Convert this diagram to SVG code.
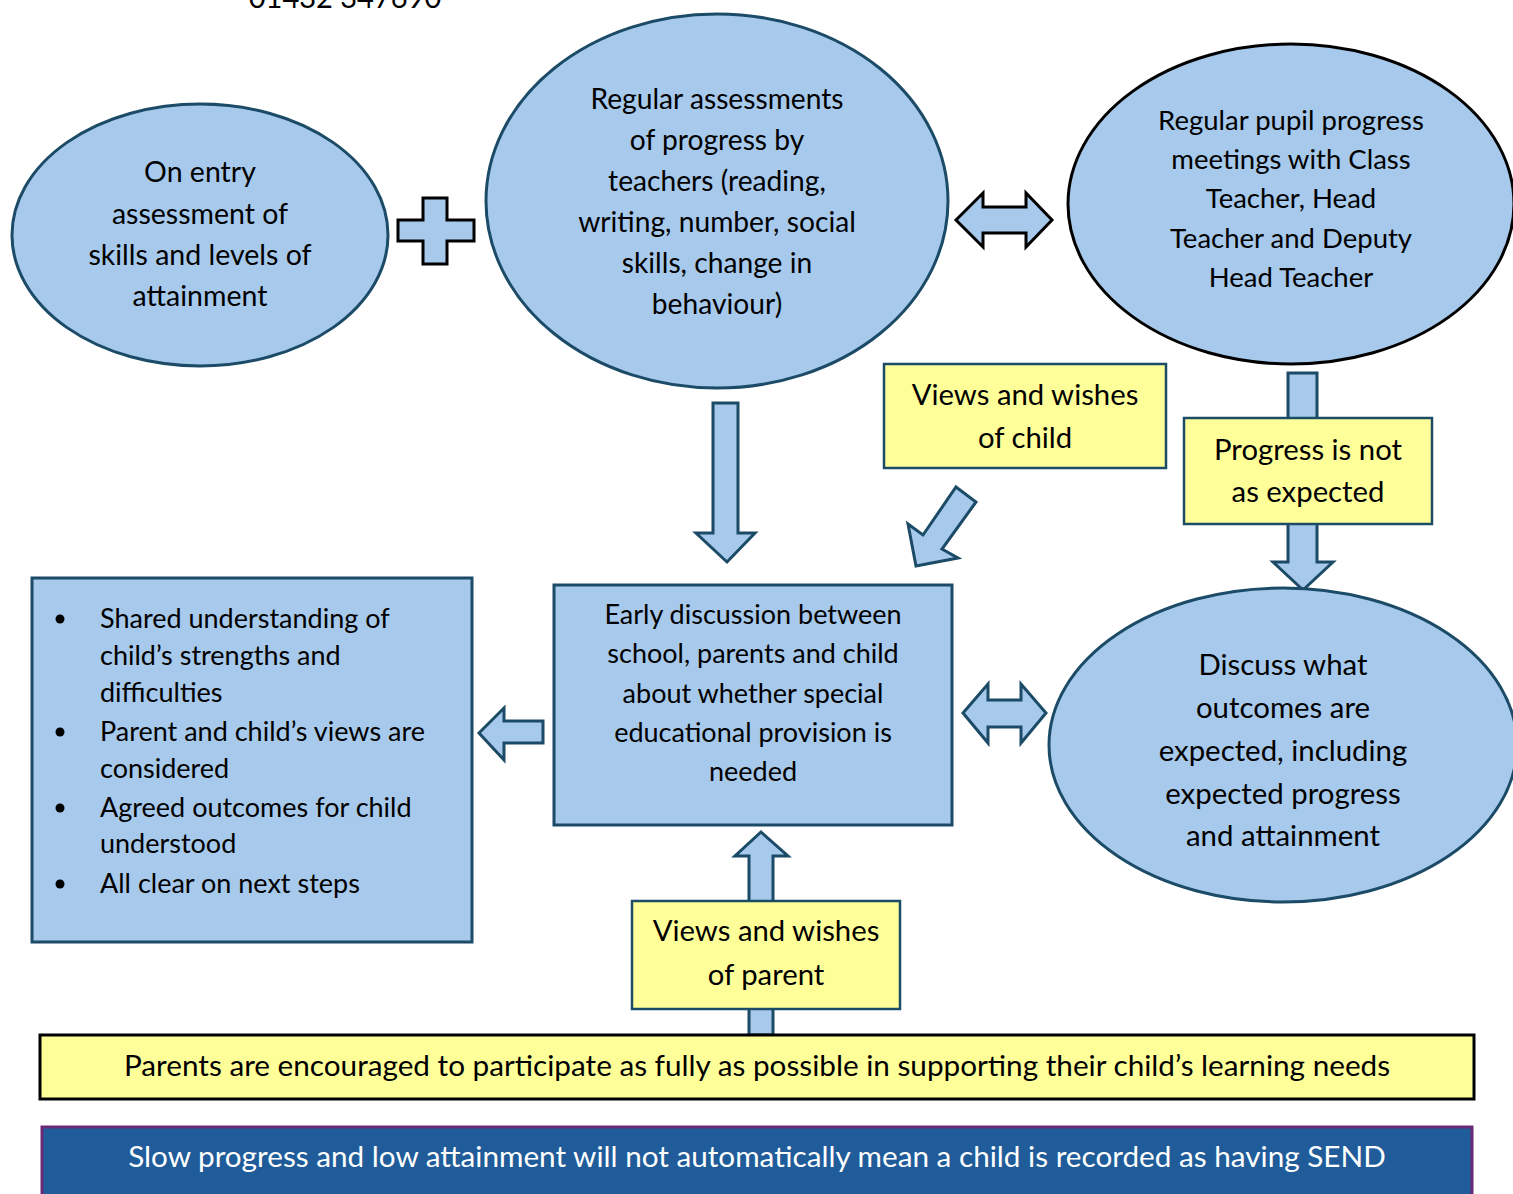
<svg xmlns="http://www.w3.org/2000/svg" width="1513" height="1194" viewBox="0 0 1513 1194">
<style>
.t{font-family:Lato,"Open Sans","Liberation Sans",sans-serif;fill:#000;text-anchor:middle}
.blue{fill:#a7c9eb;stroke:#1b4b66;stroke-width:3}
.blk{fill:#a7c9eb;stroke:#000;stroke-width:3}
.yel{fill:#ffff99;stroke:#1b4b66;stroke-width:2.5}
.arr{fill:#a7c9eb;stroke:#1b4b66;stroke-width:3;stroke-linejoin:miter}
.arrk{fill:#a7c9eb;stroke:#000;stroke-width:3;stroke-linejoin:miter}
</style>
<rect width="1513" height="1194" fill="#fff"/>
<text class="t" x="345" y="8" font-size="29">01432 347690</text>

<g id="connectors">
<path class="arrk" d="M423,198 H447 V220 H474 V241 H447 V264 H423 V241 H398 V220 H423 Z"/>
<path class="arrk" d="M956,220 L983,193 V207 H1026 V193 L1052,220 L1026,247 V233 H983 V247 Z"/>
<path class="arr" d="M713,403 H738 V533 H755 L727,562 L696,533 H713 Z"/>
<path class="arr" d="M956,487 L976,502 L942,549 L958,558 L916,566 L908,524 L923,535 Z"/>
<path class="arr" d="M1288,373 H1317 V562 H1333 L1303,590 L1273,562 H1288 Z"/>
<path class="arr" d="M479,733 L504,708 V721 H543 V743 H504 V760 Z"/>
<path class="arr" d="M963,713 L988,684 V700 H1021 V684 L1046,713 L1021,743 V727 H988 V743 Z"/>
<path class="arr" d="M761,832 L788,856 H773 V1035 H749 V856 H735 Z"/>
</g>

<g id="n1"><ellipse class="blue" cx="200" cy="235" rx="188" ry="131"/>
<text class="t" font-size="28.5"><tspan x="200" y="182">On entry</tspan><tspan x="200" y="224">assessment of</tspan><tspan x="200" y="265">skills and levels of</tspan><tspan x="200" y="306">attainment</tspan></text></g>

<g id="n2"><ellipse class="blue" cx="717" cy="201" rx="231" ry="187"/>
<text class="t" font-size="28.2"><tspan x="717" y="109">Regular assessments</tspan><tspan x="717" y="150">of progress by</tspan><tspan x="717" y="191">teachers (reading,</tspan><tspan x="717" y="232">writing, number, social</tspan><tspan x="717" y="273">skills, change in</tspan><tspan x="717" y="314">behaviour)</tspan></text></g>

<g id="n3"><ellipse class="blk" cx="1291" cy="204" rx="223" ry="160"/>
<text class="t" font-size="27.5"><tspan x="1291" y="130">Regular pupil progress</tspan><tspan x="1291" y="169">meetings with Class</tspan><tspan x="1291" y="208">Teacher, Head</tspan><tspan x="1291" y="248">Teacher and Deputy</tspan><tspan x="1291" y="287">Head Teacher</tspan></text></g>

<g id="n4"><rect class="yel" x="884" y="364" width="282" height="104"/>
<text class="t" font-size="29.3"><tspan x="1025" y="405">Views and wishes</tspan><tspan x="1025" y="448">of child</tspan></text></g>

<g id="n5"><rect class="yel" x="1184" y="418" width="248" height="106"/>
<text class="t" font-size="29.3"><tspan x="1308" y="460">Progress is not</tspan><tspan x="1308" y="502">as expected</tspan></text></g>

<g id="n6"><ellipse class="blue" cx="1283" cy="745" rx="234" ry="157"/>
<text class="t" font-size="29.4"><tspan x="1283" y="675">Discuss what</tspan><tspan x="1283" y="718">outcomes are</tspan><tspan x="1283" y="761">expected, including</tspan><tspan x="1283" y="804">expected progress</tspan><tspan x="1283" y="846">and attainment</tspan></text></g>

<g id="n7"><rect class="blue" x="554" y="585" width="398" height="240"/>
<text class="t" font-size="27"><tspan x="753" y="624">Early discussion between</tspan><tspan x="753" y="663">school, parents and child</tspan><tspan x="753" y="703">about whether special</tspan><tspan x="753" y="742">educational provision is</tspan><tspan x="753" y="781">needed</tspan></text></g>

<g id="n8"><rect class="blue" x="32" y="578" width="440" height="364"/>
<g fill="#000"><circle cx="60" cy="619" r="4.5"/><circle cx="60" cy="732" r="4.5"/><circle cx="60" cy="808" r="4.5"/><circle cx="60" cy="884" r="4.5"/></g>
<text class="t" font-size="27" style="text-anchor:start"><tspan x="100" y="628">Shared understanding of</tspan><tspan x="100" y="665">child’s strengths and</tspan><tspan x="100" y="702">difficulties</tspan><tspan x="100" y="741">Parent and child’s views are</tspan><tspan x="100" y="778">considered</tspan><tspan x="100" y="817">Agreed outcomes for child</tspan><tspan x="100" y="853">understood</tspan><tspan x="100" y="893">All clear on next steps</tspan></text></g>

<g id="n9"><rect class="yel" x="632" y="901" width="268" height="108"/>
<text class="t" font-size="29.3"><tspan x="766" y="941">Views and wishes</tspan><tspan x="766" y="985">of parent</tspan></text></g>

<g id="n10"><rect x="40" y="1035" width="1434" height="64" fill="#ffff99" stroke="#000" stroke-width="3"/>
<text class="t" font-size="29.7" x="757" y="1076">Parents are encouraged to participate as fully as possible in supporting their child’s learning needs</text></g>

<g id="n11"><rect x="42" y="1127" width="1430" height="80" fill="#1f5c99" stroke="#6b2a78" stroke-width="3"/>
<text class="t" font-size="29.7" x="757" y="1167" style="fill:#fff">Slow progress and low attainment will not automatically mean a child is recorded as having SEND</text></g>
</svg>
